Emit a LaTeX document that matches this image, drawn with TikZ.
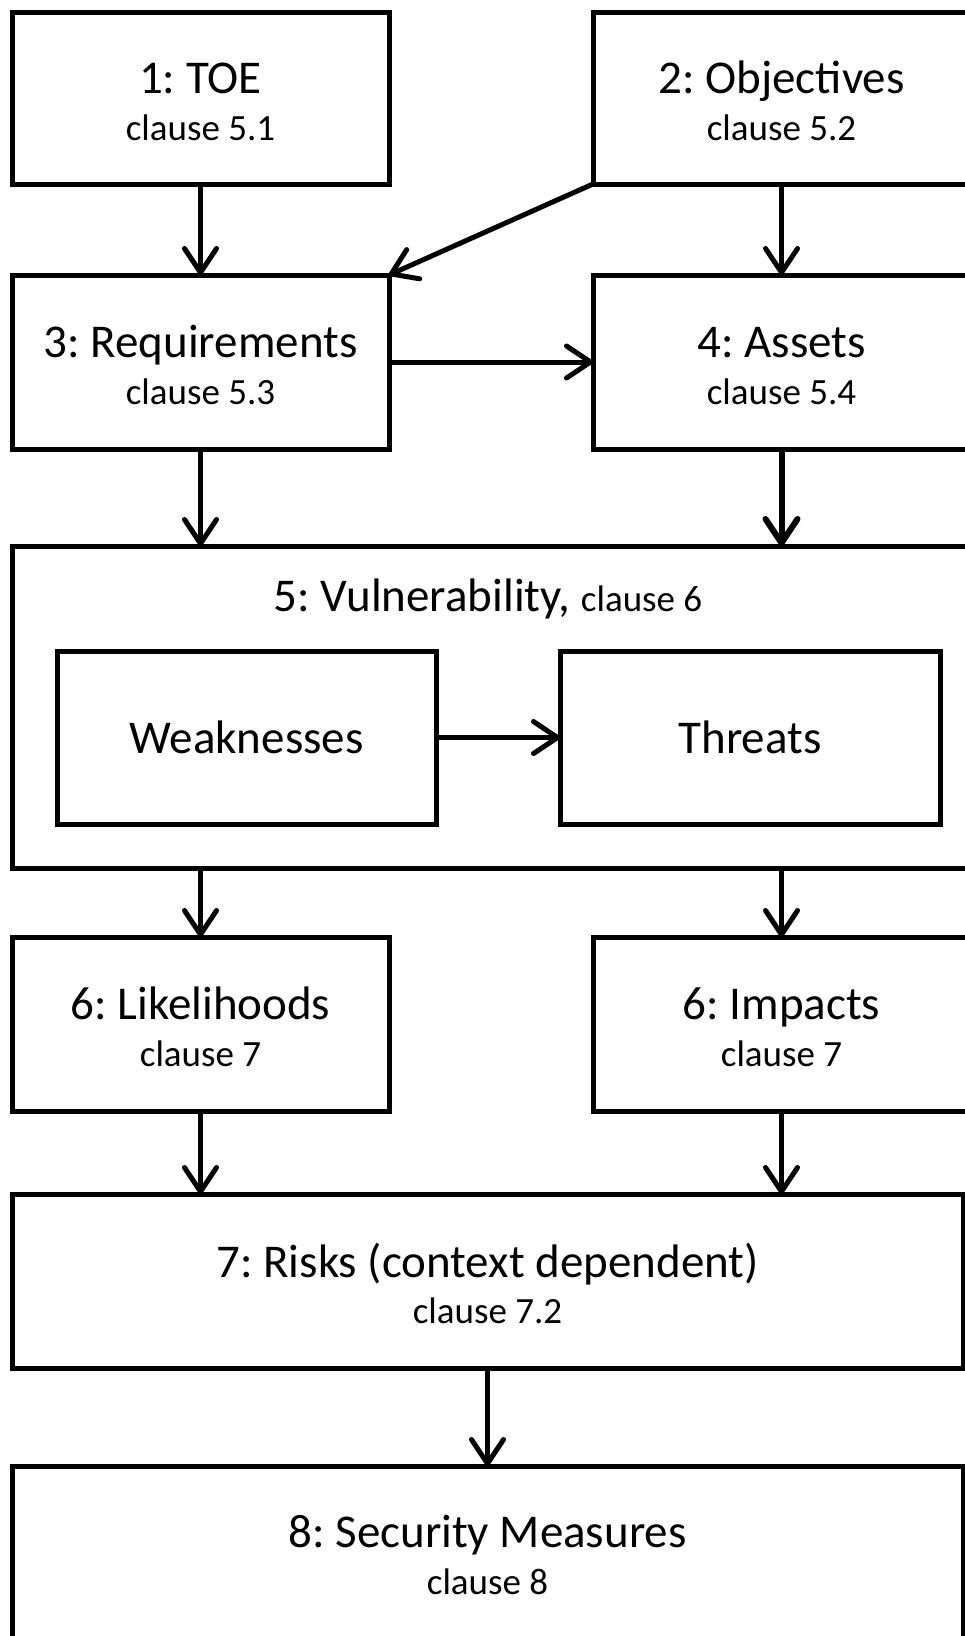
\documentclass[tikz,border=0pt]{standalone}
\usepackage{fontspec}
\setmainfont{Carlito}
\frenchspacing
\usetikzlibrary{arrows.meta,calc}
\begin{document}
\frenchspacing
\begin{tikzpicture}[x=1pt,y=-1pt,
  box/.style={draw=black,line width=5pt,rectangle,inner sep=0pt,outer sep=0pt,anchor=north west,fill=white},
  maintxt/.style={font=\fontsize{47}{56}\selectfont,anchor=base,inner sep=0pt},
  subtxt/.style={font=\fontsize{37}{44}\selectfont,anchor=base,inner sep=0pt},
  arr/.style={line width=5pt,-{Straight Barb[length=24pt,width=32pt,round]}},
  arrb/.style={line width=6pt,-{Straight Barb[length=24pt,width=32pt,round]}}]
\useasboundingbox (0,0) rectangle (965,1636);
\clip (0,0) rectangle (965,1636);
% boxes
\node[box,minimum width=377pt,minimum height=172pt] (b1) at (12,12) {};
\node[box,minimum width=377pt,minimum height=172pt] (b2) at (593,12) {};
\node[box,minimum width=377pt,minimum height=174pt] (b3) at (12,275) {};
\node[box,minimum width=377pt,minimum height=174pt] (b4) at (593,275) {};
\node[box,minimum width=956pt,minimum height=322pt] (b5) at (12,546) {};
\node[box,minimum width=379pt,minimum height=173pt] (wk) at (57,651) {};
\node[box,minimum width=380pt,minimum height=173pt] (th) at (560,651) {};
\node[box,minimum width=377pt,minimum height=174pt] (b6l) at (12,937) {};
\node[box,minimum width=377pt,minimum height=174pt] (b6i) at (593,937) {};
\node[box,minimum width=951pt,minimum height=174pt] (b7) at (12,1194) {};
\node[box,minimum width=951pt,minimum height=260pt] (b8) at (12,1466) {};
% texts
\node[maintxt] (t1) at ($(b1.north)+(0,81)$) {1: TOE};
\node[subtxt] (s1) at ($(b1.north)+(0,128)$) {clause 5.1};
\node[maintxt] (t2) at ($(b2.north)+(0,81)$) {2: Objectives};
\node[subtxt] (s2) at ($(b2.north)+(0,128)$) {clause 5.2};
\node[maintxt] (t3) at ($(b3.north)+(0,82)$) {3: Requirements};
\node[subtxt] (s3) at ($(b3.north)+(0,129)$) {clause 5.3};
\node[maintxt] (t4) at ($(b4.north)+(0,82)$) {4: Assets};
\node[subtxt] (s4) at ($(b4.north)+(0,129)$) {clause 5.4};
\node[maintxt,anchor=base] (t5) at (488,611) {5: Vulnerability, {\fontsize{37}{44}\selectfont clause 6}};
\node[maintxt] (twk) at ($(wk.north)+(0,102)$) {Weaknesses};
\node[maintxt] (tth) at ($(th.north)+(0,102)$) {Threats};
\node[maintxt] (t6l) at ($(b6l.north)+(0,82)$) {6: Likelihoods};
\node[subtxt] (s6l) at ($(b6l.north)+(0,129)$) {clause 7};
\node[maintxt] (t6i) at ($(b6i.north)+(0,82)$) {6: Impacts};
\node[subtxt] (s6i) at ($(b6i.north)+(0,129)$) {clause 7};
\node[maintxt] (t7) at ($(b7.north)+(0,83)$) {7: Risks (context dependent)};
\node[subtxt] (s7) at ($(b7.north)+(0,129)$) {clause 7.2};
\node[maintxt] (t8) at ($(b8.north)+(0,81)$) {8: Security Measures};
\node[subtxt] (s8) at ($(b8.north)+(0,128)$) {clause 8};
% connectors
\draw[arr] (b1.south) -- (b3.north);
\draw[arr] (b2.south west) -- (b3.north east);
\draw[arr] (b2.south) -- (b4.north);
\draw[arr] (b3.east) -- (b4.west);
\draw[arr] (b3.south) -- (b3.south |- b5.north);
\draw[arrb] (b4.south) -- (b4.south |- b5.north);
\draw[arr] (wk.east) -- (th.west);
\draw[arr] (b6l.north |- b5.south) -- (b6l.north);
\draw[arr] (b6i.north |- b5.south) -- (b6i.north);
\draw[arr] (b6l.south) -- (b6l.south |- b7.north);
\draw[arr] (b6i.south) -- (b6i.south |- b7.north);
\draw[arr] (b7.south) -- (b8.north);
\end{tikzpicture}
\end{document}
